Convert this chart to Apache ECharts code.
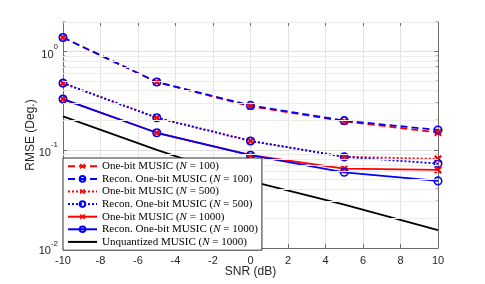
<!DOCTYPE html>
<html><head><meta charset="utf-8">
<script src="https://cdn.jsdelivr.net/npm/echarts@6/dist/echarts.min.js"></script>
<style>html,body{margin:0;padding:0;background:#fff}#c{width:485px;height:284px}</style>
</head><body><div id="c"></div>
<script>
const snr = [-10, -5, 0, 5, 10];
const oneBit100 = [1.39, 0.49, 0.278, 0.195, 0.150];
const recon100 = [1.39, 0.49, 0.283, 0.198, 0.159];
const oneBit500 = [0.477, 0.212, 0.123, 0.085, 0.0807];
const recon500 = [0.477, 0.212, 0.123, 0.0847, 0.0724];
const oneBit1000 = [0.328, 0.149, 0.088, 0.0644, 0.0624];
const recon1000 = [0.328, 0.149, 0.088, 0.059, 0.0482];
const unquant1000 = [0.219, 0.1, 0.048, 0.0276, 0.0152];
const seriesNames = [
  'One-bit MUSIC (N = 100)', 'Recon. One-bit MUSIC (N = 100)',
  'One-bit MUSIC (N = 500)', 'Recon. One-bit MUSIC (N = 500)',
  'One-bit MUSIC (N = 1000)', 'Recon. One-bit MUSIC (N = 1000)',
  'Unquantized MUSIC (N = 1000)'
];
const minorY = [0.02,0.03,0.04,0.05,0.06,0.07,0.08,0.09,0.2,0.3,0.4,0.5,0.6,0.7,0.8,0.9,2];
const xName = 'SNR (dB)';
const yName = 'RMSE (Deg.)';

const RED = '#ff0000', BLUE = '#0000ff', BLACK = '#000000';
const crossPath = 'path://M2,0 L5,3 L8,0 L10,2 L7,5 L10,8 L8,10 L5,7 L2,10 L0,8 L3,5 L0,2 Z';
const axisColor = '#6e6e6e';
const labelColor = '#262626';

function pts(arr){ return snr.map((x,i)=>[x, arr[i]]); }

function mk(name, arr, color, type, marker){
  const s = {
    name, type:'line', data: pts(arr), showSymbol:true,
    lineStyle:{color, width:1.8, type},
    symbolKeepAspect:true,
    z: 3,
    animation:false
  };
  if (marker === 'x') {
    s.symbol = crossPath; s.symbolSize = 8;
    s.itemStyle = {color};
  } else if (marker === 'o') {
    s.symbol = 'circle'; s.symbolSize = 7.5;
    s.itemStyle = {color:'rgba(0,0,0,0)', borderColor: color, borderWidth: 1.6};
  } else {
    s.symbol = 'circle'; s.symbolSize = 1; s.showSymbol = false;
    s.itemStyle = {color:'rgba(0,0,0,0)', borderWidth:0};
  }
  return s;
}

const series = [
  mk(seriesNames[0], oneBit100, RED, [7,4], 'x'),
  mk(seriesNames[1], recon100, BLUE, [7,4], 'o'),
  mk(seriesNames[2], oneBit500, RED, [2,2], 'x'),
  mk(seriesNames[3], recon500, BLUE, [2,2], 'o'),
  mk(seriesNames[4], oneBit1000, RED, 'solid', 'x'),
  mk(seriesNames[5], recon1000, BLUE, 'solid', 'o'),
  mk(seriesNames[6], unquant1000, BLACK, 'solid', 'none')
];
// minor grid lines through the log scale
series.push({
  type:'line', data:[], silent:true, z:1,
  markLine:{
    silent:true, symbol:['none','none'], animation:false,
    label:{show:false},
    lineStyle:{color:'#ececec', width:1, type:'solid'},
    data: minorY.map(v=>({yAxis:v}))
  }
});
// minor ticks on left and right edges
series.push({
  type:'custom', silent:true, z:2,
  data: minorY.map(v=>[v]),
  renderItem: function(params, api){
    const v = api.value(0);
    const pL = api.coord([-10, v]);
    const pR = api.coord([10, v]);
    return {type:'group', children:[
      {type:'line', shape:{x1:pL[0], y1:pL[1], x2:pL[0]+2.5, y2:pL[1]}, style:{stroke:axisColor, lineWidth:1}},
      {type:'line', shape:{x1:pR[0], y1:pR[1], x2:pR[0]-2.5, y2:pR[1]}, style:{stroke:axisColor, lineWidth:1}}
    ]};
  }
});

function yFmt(v){
  const l = Math.log10(v);
  const e = Math.round(l);
  if (Math.abs(l-e) > 1e-6) return '';
  return '{b|10}{s|' + e + '}';
}

const chart = echarts.init(document.getElementById('c'), null, {renderer:'canvas'});
chart.setOption({
  animation:false,
  backgroundColor:'#ffffff',
  grid:{left:63, right:47, top:22, bottom:36},
  xAxis:[{
    type:'value', min:-10, max:10, interval:2,
    name:xName, nameLocation:'middle', nameGap:18, nameMoveOverlap:false,
    nameTextStyle:{fontFamily:'Liberation Sans', fontSize:12, color:labelColor},
    axisLine:{show:true, onZero:false, lineStyle:{color:axisColor, width:1}},
    axisTick:{show:true, inside:true, length:4, lineStyle:{color:axisColor}},
    axisLabel:{fontFamily:'Liberation Sans', fontSize:11, color:labelColor, margin:7},
    splitLine:{show:true, lineStyle:{color:'#e3e3e3', width:1}}
  },{
    type:'value', min:-10, max:10, interval:2, position:'top',
    axisLine:{show:true, onZero:false, lineStyle:{color:axisColor, width:1}},
    axisTick:{show:true, inside:true, length:4, lineStyle:{color:axisColor}},
    axisLabel:{show:false}, splitLine:{show:false}
  }],
  yAxis:[{
    type:'log', logBase:10, min:0.01, max:2,
    name:yName, nameLocation:'middle', nameGap:26, nameMoveOverlap:false,
    nameTextStyle:{fontFamily:'Liberation Sans', fontSize:12, color:labelColor},
    axisLine:{show:true, onZero:false, lineStyle:{color:axisColor, width:1}},
    axisTick:{show:true, inside:true, length:4, lineStyle:{color:axisColor}},
    axisLabel:{
      formatter:yFmt, margin:5,
      rich:{
        b:{fontFamily:'Liberation Sans', fontSize:11, color:labelColor, verticalAlign:'bottom', lineHeight:17},
        s:{fontFamily:'Liberation Sans', fontSize:8, color:labelColor, verticalAlign:'top', lineHeight:17}
      }
    },
    splitLine:{show:true, lineStyle:{color:'#e0e0e0', width:1}}
  },{
    type:'log', logBase:10, min:0.01, max:2, position:'right',
    axisLine:{show:true, onZero:false, lineStyle:{color:axisColor, width:1}},
    axisTick:{show:true, inside:true, length:4, lineStyle:{color:axisColor}},
    axisLabel:{show:false}, splitLine:{show:false}
  }],
  legend:{
    show:true, orient:'vertical', left:63, top:158, z:10,
    data: seriesNames,
    backgroundColor:'#ffffff', borderColor:'#303030', borderWidth:1,
    padding:[2,4,2,4], itemGap:0, itemWidth:29, itemHeight:7,
    selectedMode:false,
    formatter: function(name){
      const i = name.indexOf('(N');
      return '{t|' + name.slice(0,i+1) + '}{i|N}{t|' + name.slice(i+2) + '}';
    },
    textStyle:{
      fontFamily:'Liberation Serif', fontSize:11, color:'#000', lineHeight:12.6,
      rich:{
        t:{fontFamily:'Liberation Serif', fontSize:11, color:'#000', lineHeight:12.6},
        i:{fontFamily:'Liberation Serif', fontStyle:'italic', fontSize:11, color:'#000', lineHeight:12.6}
      }
    }
  },
  series
});
</script></body></html>
